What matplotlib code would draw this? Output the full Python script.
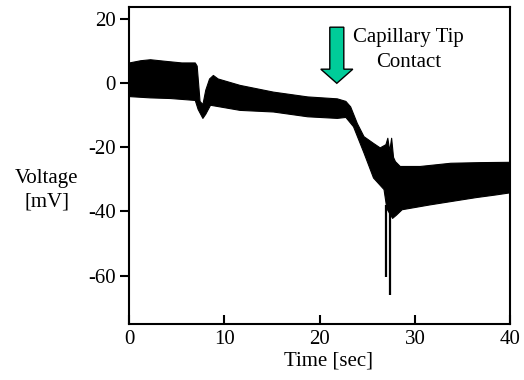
import matplotlib
matplotlib.use("Agg")
import matplotlib.pyplot as plt
import numpy as np
from matplotlib.patches import FancyArrow

plt.rcParams['font.family'] = ['Liberation Serif', 'DejaVu Serif']

# Envelope of the noisy voltage trace (time in s, voltage in mV)
upper_t = [0.0, 1.2, 2.2, 3.8, 5.5, 6.9, 7.1, 7.4, 7.7, 8.0, 8.4, 8.8, 9.3, 11.6,
           15.1, 18.7, 21.8, 22.7, 23.2, 23.9, 24.6, 25.6, 26.3, 26.9, 27.1, 27.3,
           27.5, 27.7, 27.9, 28.4, 30.5, 33.7, 36.8, 40.0]
upper_v = [6.5, 7.2, 7.5, 7.0, 6.5, 6.5, 5.5, -5.5, -6.5, -2.0, 1.5, 2.6, 1.5, -0.5,
           -2.6, -4.1, -4.7, -5.5, -7.2, -12.4, -16.5, -18.6, -20.0, -19.0, -17.0, -21.0,
           -17.0, -23.0, -24.3, -25.8, -25.8, -24.8, -24.6, -24.5]
lower_t = [0.0, 2.2, 4.3, 6.9, 7.2, 7.7, 8.0, 8.5, 11.6, 15.1, 18.7, 21.8, 22.7,
           23.5, 24.6, 25.6, 26.7, 27.0, 27.6, 28.0, 28.6, 31.5, 34.9, 36.4, 38.4, 40.0]
lower_v = [-4.0, -4.4, -4.6, -5.2, -8.0, -10.8, -9.5, -6.7, -8.3, -8.8, -10.3, -10.8, -10.5,
           -13.4, -21.6, -29.4, -33.0, -39.0, -42.0, -41.0, -39.3, -37.8, -36.2, -35.5,
           -34.7, -34.0]

# Downward spikes after contact
spike_t = [27.0, 27.4]
spike_v = [-60.3, -66.2]

x_ticks = [0, 10, 20, 30, 40]
y_ticks = [20, 0, -20, -40, -60]

fig = plt.figure(figsize=(5.24, 3.8), dpi=100)
ax = fig.add_axes([129/524, 1-324.3/380, (510.3-129)/524, (324.3-7)/380])

# band drawn between the read upper and lower envelopes
grid = sorted(set(upper_t) | set(lower_t))
up = np.interp(grid, upper_t, upper_v)
lo = np.interp(grid, lower_t, lower_v)
ax.fill_between(grid, lo, up, color='black', linewidth=0.8, edgecolor='black')
ax.vlines(spike_t, -38, spike_v, color='black', linewidth=1.6)

ax.set_xlim(0, 40)
ax.set_ylim(-75.2, 23.8)
ax.set_xticks(x_ticks)
ax.set_yticks(y_ticks)
ax.set_xticklabels([str(t) for t in x_ticks])
ax.set_yticklabels([str(t) for t in y_ticks])
ax.tick_params(axis='x', direction='in', length=6.5, width=1.5, labelsize=15, pad=4)
ax.tick_params(axis='y', direction='out', length=6.5, width=1.5, labelsize=15, pad=3)
for s in ax.spines.values():
    s.set_linewidth(1.5)

# Arrow marking capillary tip contact
arr = FancyArrow(21.8, 17.5, 0, -17.5, width=1.47, head_width=3.36, head_length=4.4,
                 length_includes_head=True, facecolor='#00CC99', edgecolor='black',
                 linewidth=1.0)
ax.add_patch(arr)
ax.text(29.3, 12.9, 'Capillary Tip', ha='center', va='baseline', fontsize=15)
ax.text(29.3, 5.0, 'Contact', ha='center', va='baseline', fontsize=15)

fig.text(47/524, 1-190/380, 'Voltage\n[mV]', ha='center', va='center', fontsize=15,
         linespacing=1.3)
fig.text(328/524, 1-361/380, 'Time [sec]', ha='center', va='center', fontsize=15)

fig.savefig('out.png', dpi=100)
